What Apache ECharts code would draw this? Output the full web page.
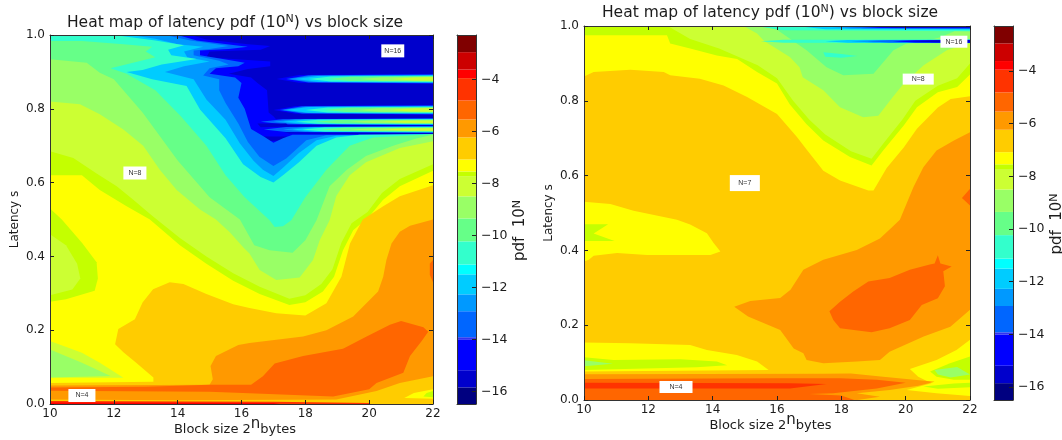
<!DOCTYPE html>
<html>
<head>
<meta charset="utf-8">
<script src="https://cdn.jsdelivr.net/npm/echarts@6/dist/echarts.min.js"></script>
<style>
  html, body { margin: 0; background: #fff; }
  #chart { width: 1062px; height: 440px; }
</style>
</head>
<body>
<div id="chart"></div>
<script>
// contour levels of the colour bar, exponent N of the pdf, lowest first
const levelEdges = [-16.49, -15.85, -15.19, -14, -13.92, -12.92, -12.27, -11.5, -11.12, -10.23, -9.35,
  -8.5, -7.72, -7.54, -7.08, -6.23, -5.54, -4.81, -3.95, -3.62, -2.95, -2.29];
const bandColors = ["#000080", "#0000cc", "#0000ff", "#3333ee", "#0066ff", "#0099ff", "#00ccff", "#00ffff",
  "#33ffcc", "#66ff88", "#99ff66", "#ccff33", "#c4ff00", "#ffff00", "#ffcc00", "#ff9900", "#ff6600",
  "#ff3300", "#ff0000", "#cc0000", "#800000"];
const colorbarTicks = [-16, -14, -12, -10, -8, -6, -4];

// index into levelEdges / bandColors
const DK = 1, BL = 2, B6 = 4, B9 = 5, CY = 6, TE = 8, G2 = 9, G1 = 10, L2 = 11, L1 = 12, YE = 13, OR = 14, O9 = 15, O6 = 16, O3 = 17, RD = 18;

const leftBefore = [
  [DK, [10,0, 22,0, 22,1, 10,1]],
  [BL, [10,1, 14.4,1, 14.9,.988, 16.2,.975, 16.9,.97, 16.6,.96, 15,.955, 14.9,.94, 16.2,.932, 16.9,.928, 16.9,.915, 16.2,.908, 15.6,.895, 16.3,.885, 16.5,.87, 16.8,.85, 16.85,.79, 17,.78, 17.2,.76, 17.2,.74, 17.5,.733, 22,.73, 22,0, 10,0]],
];
const leftStreaks = [
  [.881, [17.1, 17.4, 17.5, 17.7, 18.1, 18.7, 19.7, 20.7], [.013, .012, .0105, .0095, .0085, .007, .006, .005]],
  [.797, [17, 17.2, 17.3, 17.4, 18, 18.6, 19.6, 20.6], [.013, .012, .0105, .0095, .0085, .007, .006, .005]],
  [.765, [16, 16.6, 17, 17.3, 17.7, 18.3, 19.4, 20.4], [.0095, .0085, .008, .0075, .0065, .0055, .0045, .0035]],
  [.744, [16.2, 16.7, 17.3, 17.6, 17.9, 18.5, 19.4, 20.4], [.0095, .0085, .008, .0075, .0065, .0055, .0045, .0035]],
];
const leftAfter = [
  [DK, [16.5,.76, 17.4,.76, 17.5,.752, 16.6,.75]],
  [DK, [16.5,.725, 17.4,.725, 17.5,.715, 16.7,.712]],
  [B6, [10,1, 14,1, 14.6,.985, 15.8,.972, 16.2,.968, 15.6,.962, 14.7,.958, 14.7,.945, 15.6,.932, 16.1,.925, 15.9,.915, 15.2,.91, 15,.895, 15.8,.885, 16,.87, 15.9,.83, 16.1,.8, 16.3,.745, 16.7,.725, 17,.708, 17.3,.72, 17.6,.73, 22,.73, 22,0, 10,0]],
  [B9, [10,1, 13.6,1, 14.4,.985, 15.6,.97, 15,.962, 14.5,.958, 14.5,.945, 15.3,.93, 15.6,.92, 15,.91, 14.8,.89, 15.3,.88, 15.3,.85, 15.5,.816, 15.9,.76, 16.2,.71, 16.56,.67, 17,.645, 17.4,.665, 18.03,.715, 18.66,.728, 22,.731, 22,0, 10,0]],
  [CY, [10,1, 12.5,1, 13.3,.99, 14,.975, 14.8,.968, 14.2,.955, 14.3,.94, 15,.928, 14.2,.915, 13.6,.9, 14.5,.88, 14.9,.825, 15.5,.77, 15.95,.706, 16.37,.66, 16.67,.635, 17,.618, 17.3,.64, 17.8,.68, 18.35,.715, 18.97,.727, 22,.731, 22,0, 10,0]],
  [TE, [10,1, 12,1, 13.3,.985, 14.2,.972, 13.7,.96, 13.8,.945, 14.6,.935, 13.5,.92, 12.9,.905, 12.4,.9, 13.2,.88, 14.28,.862, 14.7,.798, 15.5,.72, 16.05,.65, 16.6,.615, 17,.6, 17.3,.62, 17.8,.655, 18.35,.7, 18.97,.722, 19.7,.73, 22,.731, 22,0, 10,0]],
  [G2, [10,.984, 11,.984, 12.3,.975, 13.2,.968, 13,.955, 13.3,.94, 12.6,.925, 11.9,.91, 12.4,.895, 13.3,.85, 14.1,.78, 14.9,.7, 15.5,.62, 16.1,.56, 16.6,.52, 16.88,.498, 17.04,.48, 17.3,.482, 17.56,.498, 18,.56, 18.66,.635, 19.39,.7, 20.12,.722, 22,.731, 22,0, 10,0]],
  [G1, [10,.934, 11.15,.925, 11.56,.898, 12,.88, 12.9,.79, 14,.66, 15,.56, 15.95,.5, 16.4,.43, 16.88,.417, 17.6,.41, 18,.444, 18.35,.498, 18.76,.59, 19.3,.635, 19.9,.672, 20.75,.7, 21.5,.72, 22,.73, 22,0, 10,0]],
  [L2, [10,.82, 10.94,.812, 11.56,.785, 12.3,.744, 12.92,.7, 13.44,.635, 13.97,.58, 14.7,.527, 15.2,.5, 15.64,.465, 16.06,.424, 16.25,.408, 16.57,.363, 17.09,.336, 17.82,.343, 18.24,.39, 18.45,.444, 18.76,.498, 18.97,.564, 19.39,.62, 19.9,.655, 20.96,.694, 22,.712, 22,0, 10,0]],
  [L1, [10,.685, 10.73,.667, 11.46,.625, 12.09,.59, 12.6,.554, 13.2,.51, 14.07,.45, 14.9,.4, 15.74,.354, 16.57,.318, 17.5,.285, 18,.295, 18.5,.325, 18.85,.365, 19.13,.437, 19.45,.49, 19.95,.52, 20.4,.572, 20.96,.61, 22,.65, 22,0, 10,0]],
  [YE, [10,.62, 11,.62, 11.56,.58, 12.4,.536, 13.13,.5, 14.07,.43, 14.9,.38, 15.74,.334, 16.57,.298, 17.5,.268, 18,.276, 18.55,.305, 18.9,.345, 19.18,.417, 19.5,.471, 20,.508, 20.43,.553, 20.96,.59, 22,.632, 22,0, 10,0]],
  [L1, [10,.53, 10.37,.5, 11,.437, 11.46,.384, 11.5,.34, 11.4,.307, 10.5,.284, 10,.277]],
  [L2, [10,.46, 10.5,.43, 10.85,.38, 10.95,.34, 10.7,.31, 10,.295]],
  [L2, [10,.171, 11,.139, 11.56,.112, 12.3,.071, 10,.071]],
  [G1, [10,.148, 11,.112, 11.9,.076, 10,.072]],
  [OR, [10,.057, 13.24,.06, 13.24,.0715, 12.7,.112, 12.3,.14, 12.04,.162, 12.14,.203, 12.66,.23, 12.9,.275, 13.23,.311, 13.75,.33, 14.18,.325, 14.9,.298, 15.74,.27, 16.25,.26, 17.09,.246, 18,.24, 18.66,.273, 19.13,.345, 19.4,.435, 19.8,.5, 20.44,.536, 20.96,.563, 22,.593, 22,0, 10,0]],
  [O9, [22,.5, 21.28,.483, 20.96,.467, 20.7,.435, 20.54,.39, 20.44,.345, 20.28,.305, 19.5,.237, 18.66,.2, 17.93,.183, 16.25,.165, 15.9,.16, 15.2,.13, 15.03,.103, 15.1,.067, 15,.052, 10,.05, 10,.012, 14,.01, 18.97,.012, 20.23,.035, 20.96,.057, 22,.075]],
  [O6, [10,.045, 13,.047, 15,.052, 16.3,.052, 16.67,.075, 17.04,.11, 17.93,.13, 19.18,.15, 19.92,.183, 20.65,.215, 21,.225, 21.7,.208, 21.85,.196, 21.64,.17, 21.28,.13, 21.07,.085, 20.23,.057, 20,.04, 18.87,.02, 16.25,.029, 15,.033, 10,.036]],
  [O6, [21.9,.38, 22,.39, 22,.33, 21.9,.35]],
  [YE, [21.4,.03, 22,.04, 22,.014, 21.1,.016]],
  [L1, [21.8,.03, 22,.035, 22,.018, 21.7,.02]],
  [O3, [10,.008, 17,.006, 20,.003, 20,0, 10,0]],
  [RD, [10,.004, 17,.003, 17.2,0, 10,0]],
];
const leftLabels = [[20.74, .957, "N=16"], [12.66, .626, "N=8"], [11, .023, "N=4"]];
const leftLabelPads = [[3, 3], [3, 5], [3, 7]];

const rightBefore = [
  [OR, [10,0, 22,0, 22,1, 10,1]],
  [YE, [10,.865, 10.3,.877, 11.44,.883, 12.48,.877, 12.68,.868, 13.6,.859, 14.34,.841, 15.07,.81, 16,.765, 16.62,.703, 16.92,.67, 17.44,.613, 17.96,.587, 18.84,.56, 19,.56, 19.41,.62, 19.94,.675, 20.35,.725, 21,.782, 21.4,.805, 22,.812, 22,1, 10,1]],
  [L1, [10,.975, 12.58,.975, 12.68,.953, 13.3,.94, 14.13,.921, 14.76,.912, 15.38,.877, 16,.846, 16.4,.79, 16.92,.737, 17.44,.694, 18.27,.65, 18.94,.627, 19.3,.667, 19.94,.734, 20.35,.783, 21,.823, 21.6,.837, 22,.87, 22,1, 10,1]],
  [L2, [12.6,1, 13.3,.965, 14.2,.94, 15.4,.895, 16,.86, 16.5,.8, 17,.75, 17.5,.71, 18.3,.665, 18.94,.645, 19.3,.685, 19.9,.75, 20.3,.8, 21,.84, 21.6,.86, 22,.9, 22,1]],
  [G1, [14.96,1, 15.38,.98, 15.6,.96, 16.4,.917, 16.7,.89, 16.8,.863, 17.44,.828, 17.96,.783, 18.68,.756, 19.15,.76, 19.6,.81, 19.94,.846, 20.56,.895, 21.28,.935, 22,.955, 22,1]],
  [G2, [15.5,1, 16,.99, 16.92,.935, 17.54,.89, 18.06,.868, 19,.872, 19.62,.935, 20.03,.953, 20.55,.957, 21.07,.97, 21.5,.985, 21.5,1]],
  [TE, [17.44,.93, 18,.925, 18.5,.92, 18,.915, 17.5,.918]],
  [YE, [10,.53, 10.82,.524, 11.54,.506, 12.78,.484, 12.89,.482, 13.3,.469, 13.82,.446, 14.03,.42, 14.24,.397, 13.93,.388, 11.96,.388, 11.03,.393, 10.3,.386, 10.15,.375, 10,.37]],
  [L1, [10,.47, 10.75,.47, 10.3,.445, 10.95,.425, 10,.425]],
  [YE, [10,.154, 11.44,.152, 13.3,.147, 13.82,.134, 14.75,.12, 15.38,.103, 15.74,.08, 10,.076]],
  [L1, [10,.114, 10.92,.107, 13,.109, 14.13,.103, 14.45,.093, 13.5,.0875, 10,.08]],
  [G1, [10,.106, 10.9,.097, 10,.09]],
  [YE, [22,.161, 21.58,.134, 20.96,.107, 20.13,.083, 20.39,.0625, 20.8,.045, 20.03,.027, 20.96,.018, 22,.011]],
  [L1, [22,.116, 21.38,.098, 20.76,.076, 20.96,.0625, 21.5,.054, 22,.054]],
  [L1, [20.55,.036, 21.5,.044, 22,.046, 22,.034, 21,.03]],
  [G1, [20.9,.08, 21.6,.088, 22,.068, 21.4,.06, 21,.068]],
  [O9, [14.67,.249, 15.17,.265, 16.1,.273, 16.42,.295, 16.82,.348, 17.44,.375, 18.48,.401, 19.2,.432, 19.6,.464, 19.82,.482, 20.24,.569, 20.55,.622, 20.96,.667, 21.5,.694, 22,.716, 22,.241, 21.39,.196, 20.56,.17, 19.5,.129, 19.2,.107, 18.48,.103, 17.44,.098, 16.92,.107, 16.82,.125, 16.52,.138, 16.1,.1875, 15.6,.205, 15.1,.223]],
  [O6, [17.63,.237, 17.96,.263, 18.37,.29, 18.84,.317, 19.5,.326, 20.13,.348, 20.75,.362, 20.9,.365, 21,.387, 21.08,.365, 21.43,.357, 21.17,.344, 21.22,.304, 21,.272, 20.5,.254, 20.13,.214, 19.5,.192, 18.94,.181, 17.96,.192, 17.75,.214]],
  [O6, [21.75,.54, 22,.565, 22,.52]],
  [O9, [10,.069, 17.44,.07, 18.3,.071, 19.3,.0625, 20.9,.049, 20.4,.038, 19.5,.027, 18.48,.018, 19.2,.009, 18.5,0, 10,0]],
  [O6, [10,.056, 16,.058, 17.96,.058, 19.1,.054, 20,.046, 19.1,.031, 17.75,.018, 17,.016, 18,.012, 18.4,0, 10,0]],
  [O3, [10,.046, 16.4,.045, 17.54,.043, 16.4,.031, 10,.031]],
];
const rightStreaks = [
  [.959, [15.5, 17.5, 18.3, 18.8, 19.6, 20.2], [.005, .0045, .004, .0035, .0035, .003]],
  [.998, [15.5, 16.8, 17.6, 18, 18.5, 19], [.012, .008, .006, .005, .004, .003]],
];
const rightAfter = [];
const rightLabels = [[15, .58, "N=7"], [20.39, .858, "N=8"], [21.5, .958, "N=16"], [12.86, .035, "N=4"]];
const rightLabelPads = [[4.5, 8.5], [2, 9], [2.5, 5], [2.5, 10]];

const streakBandsLeft = [BL, B6, B9, CY, TE, G2, G1, L2];
const streakBandsRight = [TE, CY, B9, B6, BL, DK];

const FONT = "DejaVu Sans";
const INK = "#1c1c1c";

function lens(yc, tip, half) {
  return [tip, yc, tip + 0.7, yc + half * 0.8, 22, yc + half, 22, yc - half, tip + 0.7, yc - half * 0.8];
}

function buildShapes(before, streaks, bands, after) {
  const out = before.slice();
  streaks.forEach(([yc, tips, halves]) => {
    tips.forEach((tip, i) => out.push([bands[i], lens(yc, tip, halves[i])]));
  });
  return out.concat(after);
}

function contourSeries(shapes, axisIndex) {
  return {
    type: "custom",
    xAxisIndex: axisIndex,
    yAxisIndex: axisIndex,
    clip: true,
    silent: true,
    data: shapes.map((s) => [s[1][0], s[1][1], s[0]]),
    renderItem: (params, api) => {
      const flat = shapes[params.dataIndex][1];
      const points = [];
      for (let i = 0; i < flat.length; i += 2) points.push(api.coord([flat[i], flat[i + 1]]));
      return { type: "polygon", shape: { points }, style: { fill: bandColors[shapes[params.dataIndex][0]] } };
    },
  };
}

function labelSeries(labels, pads, axisIndex) {
  return {
    type: "scatter",
    xAxisIndex: axisIndex,
    yAxisIndex: axisIndex,
    symbolSize: 0,
    silent: true,
    z: 6,
    itemStyle: { opacity: 1 },
    data: labels.map((l, i) => ({ value: [l[0], l[1]], name: l[2], label: { padding: pads[i] } })),
    label: {
      show: true,
      position: "inside",
      formatter: "{b}",
      fontFamily: "Liberation Sans",
      fontSize: 7,
      color: "#333",
      backgroundColor: "#fff",
    },
  };
}

function colorbarSeries(axisIndex) {
  return {
    type: "custom",
    xAxisIndex: axisIndex,
    yAxisIndex: axisIndex,
    silent: true,
    data: bandColors.map((c, i) => [0, levelEdges[i]]),
    renderItem: (params, api) => {
      const i = params.dataIndex;
      const a = api.coord([0, levelEdges[i]]);
      const b = api.coord([1, levelEdges[i + 1]]);
      return { type: "rect", shape: { x: a[0], y: b[1], width: b[0] - a[0], height: a[1] - b[1] }, style: { fill: bandColors[i] } };
    },
  };
}

const titleRich = {
  t: { fontFamily: FONT, fontSize: 15.5, fontWeight: "normal", color: INK },
  s: { fontFamily: FONT, fontSize: 11, fontWeight: "normal", color: INK, padding: [0, 0, 7, 0] },
};
const titleText = "{t|Heat map of latency pdf (10}{s|N}{t|) vs block size}";

const frameLine = { show: true, onZero: false, lineStyle: { color: "#333", width: 1 } };

function plotAxes(grid) {
  const tick = { show: true, inside: true, length: 4, lineStyle: { color: "#222" } };
  const label = { fontFamily: FONT, fontSize: 12, color: INK };
  const x = {
    type: "value", gridIndex: grid, min: 10, max: 22, interval: 2, z: 10,
    axisLine: frameLine, axisTick: tick, splitLine: { show: false },
  };
  const y = {
    type: "value", gridIndex: grid, min: 0, max: 1, interval: 0.2, z: 10,
    axisLine: frameLine, axisTick: tick, splitLine: { show: false },
  };
  return {
    x: [
      {
        ...x, position: "bottom",
        axisLabel: { ...label, margin: 4, showMinLabel: true, showMaxLabel: true },
        name: "{a|Block size 2}{n|n}{a|bytes}",
        nameLocation: "middle",
        nameGap: 13,
        nameMoveOverlap: false,
        nameTextStyle: {
          padding: [0, 13, 0, 0],
          rich: {
            a: { fontFamily: FONT, fontSize: 13, color: INK, padding: [6, 0, 0, 0] },
            n: { fontFamily: FONT, fontSize: 15, color: INK, padding: [0, 0, 4, 0] },
          },
        },
      },
      { ...x, position: "top", axisLabel: { show: false } },
    ],
    y: [
      {
        ...y, position: "left",
        axisLabel: { ...label, margin: 5, formatter: (v) => v.toFixed(1) },
        name: "Latency s",
        nameLocation: "middle",
        nameGap: 29,
        nameTextStyle: { fontFamily: FONT, fontSize: 12, color: INK },
      },
      { ...y, position: "right", axisLabel: { show: false } },
    ],
  };
}

function barAxes(grid) {
  const x = { type: "value", gridIndex: grid, min: 0, max: 1, z: 10, axisLine: frameLine, axisTick: { show: false }, axisLabel: { show: false }, splitLine: { show: false } };
  const y = { type: "value", gridIndex: grid, min: levelEdges[0], max: levelEdges[levelEdges.length - 1], z: 10, axisLine: frameLine, splitLine: { show: false } };
  return {
    x: [{ ...x, position: "bottom" }, { ...x, position: "top" }],
    y: [
      { ...y, position: "left", axisTick: { show: false }, axisLabel: { show: false } },
      {
        ...y, position: "right",
        axisTick: { show: true, inside: true, length: 4, customValues: colorbarTicks, lineStyle: { color: "#222" } },
        axisLabel: { customValues: colorbarTicks, fontFamily: FONT, fontSize: 12.5, color: INK, margin: 5, formatter: (v) => String(v).replace("-", "\u2212") },
        name: "{a|pdf  10}{n|N}",
        nameLocation: "middle",
        nameRotate: 90,
        nameGap: 32,
        nameTextStyle: {
          padding: [0, 22, 0, 0],
          rich: {
            a: { fontFamily: FONT, fontSize: 15, color: INK },
            n: { fontFamily: FONT, fontSize: 11, color: INK, padding: [0, 0, 7, 0] },
          },
        },
      },
    ],
  };
}

const grids = [
  { left: 50, top: 35, width: 383, height: 369, outerBoundsMode: "none" },
  { left: 584, top: 26, width: 386, height: 374, outerBoundsMode: "none" },
  { left: 457, top: 35, width: 19, height: 369, outerBoundsMode: "none" },
  { left: 994, top: 26, width: 19, height: 374, outerBoundsMode: "none" },
];
const axes = [plotAxes(0), plotAxes(1), barAxes(2), barAxes(3)];

// the frame axes sit in pairs, so a series uses the first axis of its grid
function firstAxis(grid) {
  return grid * 2;
}

const option = {
  animation: false,
  backgroundColor: "#fff",
  title: [
    { text: titleText, left: 230, top: 9, textAlign: "center", textStyle: { fontWeight: "normal", rich: titleRich } },
    { text: titleText, left: 765, top: -1, textAlign: "center", textStyle: { fontWeight: "normal", rich: titleRich } },
  ],
  grid: grids,
  xAxis: axes.flatMap((a) => a.x),
  yAxis: axes.flatMap((a) => a.y),
  series: [
    contourSeries(buildShapes(leftBefore, leftStreaks, streakBandsLeft, leftAfter), firstAxis(0)),
    labelSeries(leftLabels, leftLabelPads, firstAxis(0)),
    contourSeries(buildShapes(rightBefore, rightStreaks, streakBandsRight, rightAfter), firstAxis(1)),
    labelSeries(rightLabels, rightLabelPads, firstAxis(1)),
    colorbarSeries(firstAxis(2)),
    colorbarSeries(firstAxis(3)),
  ],
};

const chart = echarts.init(document.getElementById("chart"), null, { renderer: "canvas" });
chart.setOption(option);
</script>
</body>
</html>
